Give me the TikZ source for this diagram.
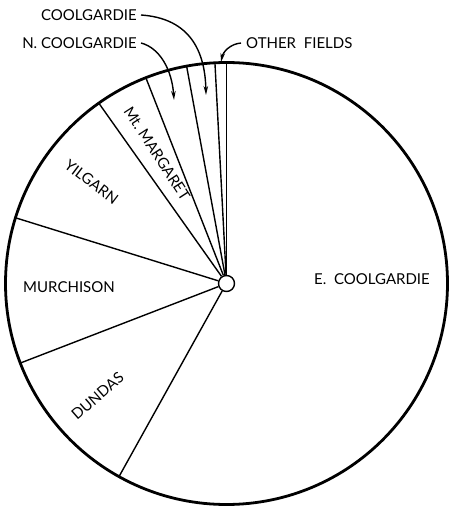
\documentclass[tikz,border=0pt]{standalone}
\usepackage{fontspec}
\setmainfont{Lato}
\usetikzlibrary{calc,arrows.meta}
\tikzset{
  rim/.style={line width=2.8pt},
  spoke/.style={line width=1.4pt},
  lbl/.style={inner sep=0pt,font=\fontsize{15}{17}\selectfont},
  pointer/.style={line width=1.4pt,-{Stealth[length=9pt,width=4.5pt]}}
}
\begin{document}
\begin{tikzpicture}[x=1pt,y=1pt]
\useasboundingbox (0,0) rectangle (451,507);
\coordinate (C) at (226.5,223.5);
\draw[rim] (C) circle[radius=221];
\node[draw,circle,line width=1.4pt,minimum size=16pt,inner sep=0pt,fill=white] (hub) at (C) {};
\foreach \a/\n in {90/r1,93/r2,100.4/r3,111.4/r4,125.3/r5,162.7/r6,201.1/r7,240.9/r8}{
  \coordinate (\n) at ($(C)+(\a:221)$);
  \draw[spoke] (hub.\a) -- (\n);
}
% sector labels
\node[lbl] (ecool) at (372,228) {E.\ \ COOLGARDIE};
\node[lbl] (murch) at (69,220) {MURCHISON};
\node[lbl,rotate=41] (dundas) at (97.5,111) {DUNDAS};
\node[lbl,rotate=-37] (yilg) at (91.5,325) {YILGARN};
\node[lbl,rotate=-57] (mtm) at (157,353.5) {Mt.\ MARGARET};
% outside labels
\node[lbl,anchor=east] (coolL) at (137,492) {COOLGARDIE};
\node[lbl,anchor=east] (ncoolL) at (137,464) {N.\ COOLGARDIE};
\node[lbl,anchor=west] (otherL) at (246,464) {OTHER\ \ FIELDS};
\coordinate (coolT) at (206,412);
\coordinate (ncoolT) at (174,407);
\coordinate (otherT) at (221,445);
\draw[pointer] ([xshift=4pt]coolL.east) .. controls (185,489) and (205,462) .. (coolT);
\draw[pointer] ([xshift=4pt]ncoolL.east) .. controls (160,459) and (172,437) .. (ncoolT);
\draw[pointer] ([xshift=-5pt]otherL.west) .. controls (230,463) and (223,455) .. (otherT);
\end{tikzpicture}
\end{document}
